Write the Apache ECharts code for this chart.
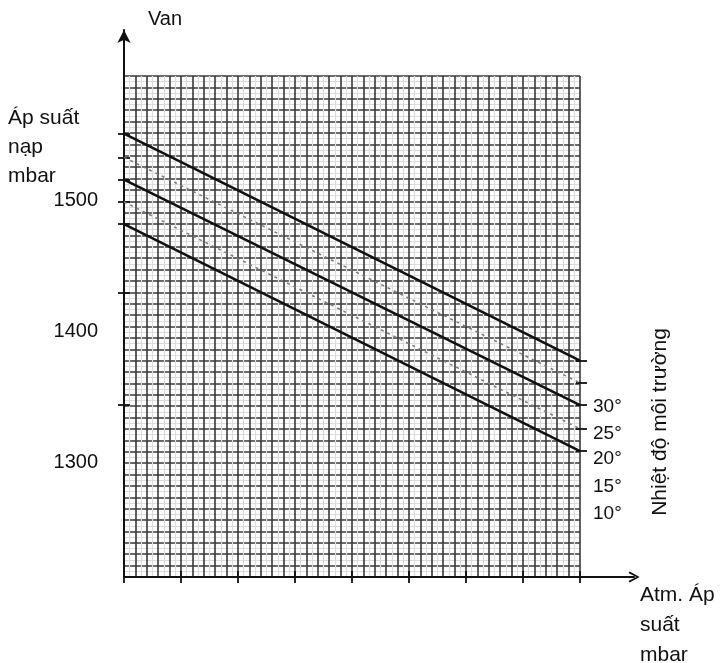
<!DOCTYPE html>
<html><head><meta charset="utf-8">
<script src="https://cdn.jsdelivr.net/npm/echarts@6/dist/echarts.min.js"></script>
<style>html,body{margin:0;padding:0;background:#fff}#c{width:726px;height:663px}</style>
</head><body><div id="c"></div>
<script>
// ---- data ----
const lineX = [0, 40];                 // atm. pressure, in grid cells (start, end)
const solidTop    = [1551, 1378];      // mbar at start / end
const dashedUpper = [1533, 1361];
const solidMid    = [1516, 1344];
const dashedLower = [1499, 1326];
const solidBottom = [1482, 1309];
const yLabelValues = [1500, 1400, 1300];
const leftTickValues = [1551, 1533, 1516, 1499, 1482, 1430, 1344];
const rightTickValues = [1378, 1361, 1344, 1326, 1309];
const tempLabels = ['30°', '25°', '20°', '15°', '10°'];
const tempLabelValues = [1343, 1322.5, 1303, 1281.5, 1261];
const xTickValues = [0, 5, 10, 15, 20, 25, 30, 35, 40];

const FONT = '"Liberation Sans", Arial, sans-serif';
const Y_MIN = 1213, Y_MAX = 1595;
const dark = '#383838', light = '#dcdcdc';
const chevron = 'path://M5,0 L10,9 L8.6,10.2 L5,3 L1.4,10.2 L0,9 Z';

function pairs(xs, ys) { return xs.map((x, i) => [x, ys[i]]); }
function tempFmt(v) {
  let best = 0, d = Infinity;
  tempLabelValues.forEach((t, i) => { if (Math.abs(t - v) < d) { d = Math.abs(t - v); best = i; } });
  return tempLabels[best];
}

const chart = echarts.init(document.getElementById('c'), null, {renderer: 'canvas'});
const hidden = {axisLine:{show:false}, axisTick:{show:false}, axisLabel:{show:false}, splitLine:{show:false}};

const option = {
  animation: false,
  backgroundColor: '#fff',
  textStyle: {fontFamily: FONT},
  grid: [
    {left: 124, top: 76, right: 146, bottom: 86},
    {left: 124, top: 30, right: 92, bottom: 86}
  ],
  xAxis: [
    Object.assign({}, hidden, {gridIndex:0, type:'value', min:0, max:40, interval:1,
      splitLine:{show:true, lineStyle:{color:dark, width:1.6}},
      minorTick:{show:false, splitNumber:2},
      minorSplitLine:{show:true, lineStyle:{color:light, width:1.2}}}),
    Object.assign({}, hidden, {gridIndex:0, type:'value', min:0, max:40, position:'bottom',
      axisTick:{show:true, inside:false, length:6, customValues:xTickValues, lineStyle:{color:'#111', width:1.8}}}),
    Object.assign({}, hidden, {gridIndex:0, type:'value', min:0, max:40, position:'bottom',
      axisTick:{show:true, inside:true, length:6, customValues:xTickValues, lineStyle:{color:'#111', width:1.8}}}),
    Object.assign({}, hidden, {gridIndex:1, type:'value', min:0, max:1, position:'bottom',
      axisLine:{show:true, symbol:['none', chevron], symbolSize:[11, 12], lineStyle:{color:'#111', width:2}}})
  ],
  yAxis: [
    Object.assign({}, hidden, {gridIndex:0, type:'value', min:0, max:44, interval:1,
      splitLine:{show:true, lineStyle:{color:dark, width:1.6}},
      minorTick:{show:false, splitNumber:2},
      minorSplitLine:{show:true, lineStyle:{color:light, width:1.2}}}),
    Object.assign({}, hidden, {gridIndex:0, type:'value', min:Y_MIN, max:Y_MAX, position:'left',
      axisTick:{show:true, inside:false, length:6, customValues:leftTickValues, lineStyle:{color:'#111', width:1.8}},
      axisLabel:{show:true, customValues:yLabelValues, formatter:(v) => String(v), margin:26, fontSize:20, color:'#111', fontFamily:FONT}}),
    Object.assign({}, hidden, {gridIndex:0, type:'value', min:Y_MIN, max:Y_MAX, position:'left',
      axisTick:{show:true, inside:true, length:6, customValues:leftTickValues, lineStyle:{color:'#111', width:1.8}}}),
    Object.assign({}, hidden, {gridIndex:0, type:'value', min:Y_MIN, max:Y_MAX, position:'right',
      axisTick:{show:true, inside:false, length:7, customValues:rightTickValues, lineStyle:{color:'#111', width:1.8}},
      axisLabel:{show:true, customValues:tempLabelValues, formatter:tempFmt, margin:13, fontSize:19, color:'#111', fontFamily:FONT}}),
    Object.assign({}, hidden, {gridIndex:0, type:'value', min:Y_MIN, max:Y_MAX, position:'right',
      axisTick:{show:true, inside:true, length:4, customValues:rightTickValues, lineStyle:{color:'#111', width:1.8}}}),
    Object.assign({}, hidden, {gridIndex:1, type:'value', min:0, max:1, position:'left',
      axisLine:{show:true, symbol:['none', 'arrow'], symbolSize:[10, 13], lineStyle:{color:'#111', width:2}}})
  ],
  series: [
    {name:'solidTop', data:pairs(lineX, solidTop), lw:2.6, c:'#111', t:'solid'},
    {name:'dashedUpper', data:pairs(lineX, dashedUpper), lw:1.5, c:'#7a7a7a', t:[3, 4]},
    {name:'solidMid', data:pairs(lineX, solidMid), lw:2.6, c:'#111', t:'solid'},
    {name:'dashedLower', data:pairs(lineX, dashedLower), lw:1.5, c:'#7a7a7a', t:[3, 4]},
    {name:'solidBottom', data:pairs(lineX, solidBottom), lw:2.6, c:'#111', t:'solid'}
  ].map(s => ({
    type:'line', name:s.name, xAxisIndex:0, yAxisIndex:1, data:s.data,
    symbol:'none', silent:true, z:5,
    lineStyle:{color:s.c, width:s.lw, type:s.t}
  })),
  graphic: [
    {type:'text', x:148, y:19, style:{text:'Van', font:'20px ' + FONT, fill:'#111', verticalAlign:'middle'}},
    {type:'text', x:8, y:118, style:{text:'Áp suất', font:'21px ' + FONT, fill:'#111', verticalAlign:'middle'}},
    {type:'text', x:8, y:147, style:{text:'nạp', font:'21px ' + FONT, fill:'#111', verticalAlign:'middle'}},
    {type:'text', x:8, y:176, style:{text:'mbar', font:'21px ' + FONT, fill:'#111', verticalAlign:'middle'}},
    {type:'text', x:660, y:422, rotation:Math.PI / 2, style:{text:'Nhiệt độ môi trường', font:'21px ' + FONT, fill:'#111', align:'center', verticalAlign:'middle'}},
    {type:'text', x:640, y:595, style:{text:'Atm. Áp', font:'21px ' + FONT, fill:'#111', verticalAlign:'middle'}},
    {type:'text', x:640, y:625, style:{text:'suất', font:'21px ' + FONT, fill:'#111', verticalAlign:'middle'}},
    {type:'text', x:640, y:655, style:{text:'mbar', font:'21px ' + FONT, fill:'#111', verticalAlign:'middle'}}
  ]
};
chart.setOption(option);
</script>
</body></html>
